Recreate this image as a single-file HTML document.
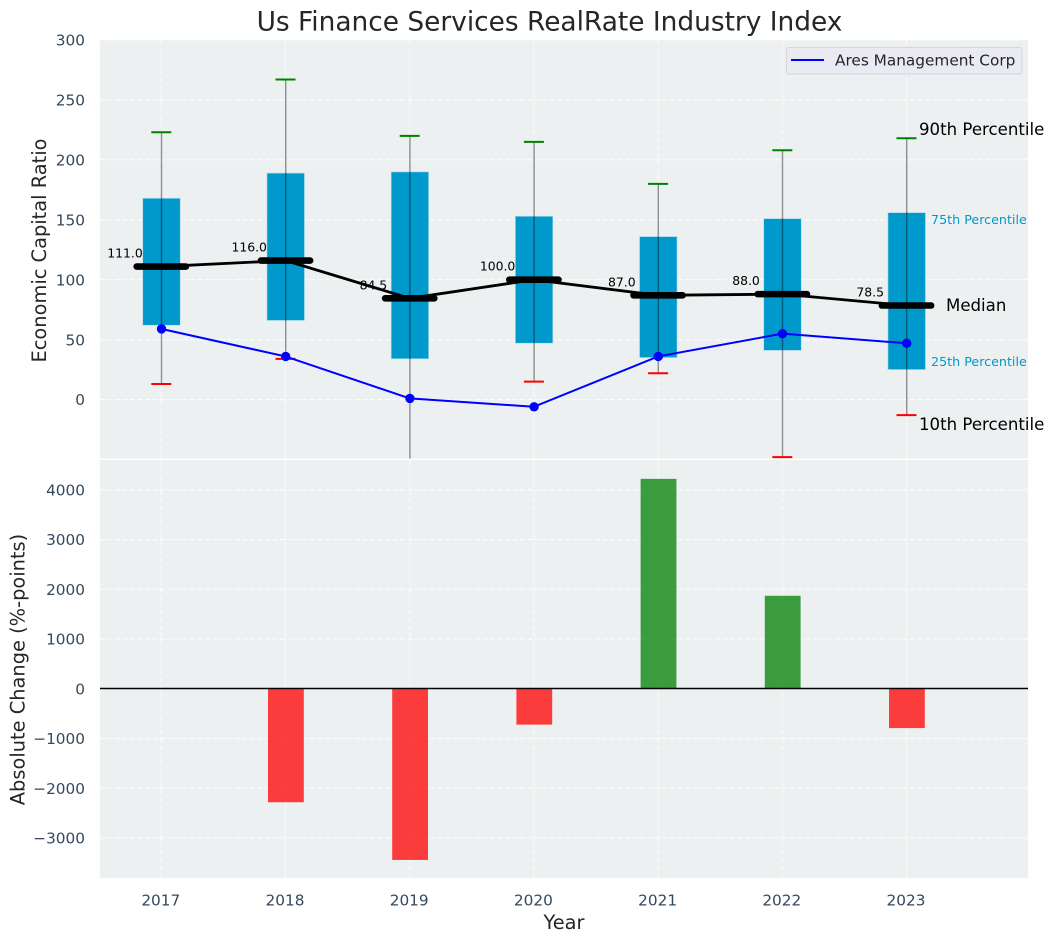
<!DOCTYPE html>
<html>
<head>
<meta charset="utf-8">
<style>
html,body{margin:0;padding:0;background:#fff;}
svg{display:block;font-family:"DejaVu Sans","Liberation Sans",sans-serif;}
</style>
</head>
<body>
<svg id="chart" width="1054" height="942" viewBox="0 0 1054 942" xmlns="http://www.w3.org/2000/svg">
<defs>
<clipPath id="topClip"><rect x="100" y="40" width="928" height="418.5"/></clipPath>
<clipPath id="botClip"><rect x="100" y="460" width="928" height="418"/></clipPath>
</defs>
</svg>
<script>
const years = [2017, 2018, 2019, 2020, 2021, 2022, 2023];
const p90 = [223, 267, 220, 215, 180, 208, 218];
const p75 = [168, 189, 190, 153, 136, 151, 156];
const medians = [111, 116, 84.5, 100, 87, 88, 78.5];
const p25 = [62, 66, 34, 47, 35, 41, 25];
const p10 = [13, 34, -60, 15, 22, -48, -13];
const ares = [59, 36, 1, -6, 36, 55, 47];
const changes = [null, -2280, -3440, -720, 4220, 1870, -790];
const topTicks = [0, 50, 100, 150, 200, 250, 300];
const botTicks = [-3000, -2000, -1000, 0, 1000, 2000, 3000, 4000];

const svg = document.getElementById('chart');
const NS = 'http://www.w3.org/2000/svg';
const xAt = i => 161.3 + (years[i] - 2017) * 124.2;
const yTop = v => 399.6 - v * 1.1987;
const yBot = v => 688.8 - v * 0.04975;

function make(tag, attrs, parent, text) {
  const el = document.createElementNS(NS, tag);
  for (const k in attrs) el.setAttribute(k, attrs[k]);
  if (text !== undefined) el.textContent = text;
  (parent || svg).appendChild(el);
  return el;
}
function group(name, clip) {
  const g = make('g', clip ? {'clip-path': 'url(#' + clip + ')'} : {});
  
  
  return g;
}

/* panel backgrounds */
const topBg = make('rect', {x: 100, y: 40, width: 928, height: 418.5, fill: '#ecf0f1'});


const botBg = make('rect', {x: 100, y: 460, width: 928, height: 418, fill: '#ecf0f1'});



/* gridlines */
const gridG = group('gridlines');
const dash = {stroke: '#ffffff', 'stroke-width': 1.1, 'stroke-dasharray': '5 2.5', opacity: 0.85};
years.forEach((y, i) => {
  make('line', Object.assign({x1: xAt(i), x2: xAt(i), y1: 40, y2: 458.5}, dash), gridG);
  make('line', Object.assign({x1: xAt(i), x2: xAt(i), y1: 460, y2: 878}, dash), gridG);
});
topTicks.forEach(t => make('line', Object.assign({x1: 100, x2: 1028, y1: yTop(t), y2: yTop(t)}, dash), gridG));
botTicks.forEach(t => make('line', Object.assign({x1: 100, x2: 1028, y1: yBot(t), y2: yBot(t)}, dash), gridG));

/* top panel marks */
const topG = group('percentile-series', 'topClip');
const BOX_HALF = 18.8;
const CAP_HALF = 10;
years.forEach((y, i) => {
  const box = make('rect', {
    x: xAt(i) - BOX_HALF + 0.2, width: BOX_HALF * 2,
    y: yTop(p75[i]), height: yTop(p25[i]) - yTop(p75[i]),
    fill: '#0099cc', stroke: '#b8dfec', 'stroke-width': 0.7
  }, topG);
  
  
  const whisker = make('line', {
    x1: xAt(i) + 0.2, x2: xAt(i) + 0.2, y1: yTop(p90[i]), y2: yTop(p10[i]),
    stroke: '#000', 'stroke-opacity': 0.42, 'stroke-width': 1.4
  }, topG);
  
  
  const capHi = make('line', {
    x1: xAt(i) - CAP_HALF, x2: xAt(i) + CAP_HALF, y1: yTop(p90[i]), y2: yTop(p90[i]),
    stroke: '#008000', 'stroke-width': 2
  }, topG);
  
  
  const capLo = make('line', {
    x1: xAt(i) - CAP_HALF, x2: xAt(i) + CAP_HALF, y1: yTop(p10[i]), y2: yTop(p10[i]),
    stroke: '#ff0000', 'stroke-width': 2
  }, topG);
  
  
});

/* median value labels */
const medLabelG = group('median-value-labels');
years.forEach((y, i) => {
  const t = make('text', {
    x: xAt(i) - 36.3, y: yTop(medians[i]) - 9, 'text-anchor': 'middle',
    'font-size': 12.4, fill: '#000'
  }, medLabelG, medians[i].toFixed(1));
  
  
});

/* median trend + ticks */
const medPts = years.map((y, i) => xAt(i) + ',' + yTop(medians[i])).join(' ');
const medLine = make('polyline', {points: medPts, fill: 'none', stroke: '#000', 'stroke-width': 2.8}, topG);


years.forEach((y, i) => {
  const m = make('line', {
    x1: xAt(i) - 24.6, x2: xAt(i) + 24.6, y1: yTop(medians[i]), y2: yTop(medians[i]),
    stroke: '#000', 'stroke-width': 6.6, 'stroke-linecap': 'round'
  }, topG);
  
  
});

/* Ares series */
const aresPts = years.map((y, i) => xAt(i) + ',' + yTop(ares[i])).join(' ');
const aresLine = make('polyline', {points: aresPts, fill: 'none', stroke: '#0000ff', 'stroke-width': 2}, topG);


years.forEach((y, i) => {
  const c = make('circle', {cx: xAt(i) + 0.2, cy: yTop(ares[i]), r: 4.7, fill: '#0000ff'}, topG);
  
  
});

/* bottom panel bars */
const botG = group('absolute-change-bars', 'botClip');
changes.forEach((v, i) => {
  if (v === null) return;
  const top = Math.min(yBot(v), yBot(0));
  const h = Math.abs(yBot(v) - yBot(0));
  const b = make('rect', {
    x: xAt(i) - 17.5, width: 35.8, y: top, height: h,
    fill: v >= 0 ? '#008000' : '#ff0000', 'fill-opacity': 0.75
  }, botG);
  
  
});
const zero = make('line', {x1: 100, x2: 1028, y1: yBot(0) - 0.3, y2: yBot(0) - 0.3, stroke: '#000', 'stroke-width': 1.4});



/* tick labels */
const tickColor = '#34495e';
topTicks.forEach(t => {
  const el = make('text', {x: 85, y: yTop(t) + 5.6, 'text-anchor': 'end', 'font-size': 15.3, fill: tickColor}, svg, String(t));
  
  
});
botTicks.forEach(t => {
  const el = make('text', {x: 85, y: yBot(t) + 5.6, 'text-anchor': 'end', 'font-size': 15.3, fill: tickColor}, svg, String(t).replace('-', '\u2212'));
  
  
});
years.forEach((y, i) => {
  const el = make('text', {x: xAt(i) - 0.5, y: 905.5, 'text-anchor': 'middle', 'font-size': 15.3, fill: tickColor}, svg, String(y));
  
  
});
</script>

<script>
/* static labels */
(function () {
  const s = document.getElementById('chart');
  const ns = 'http://www.w3.org/2000/svg';
  function label(name, txt, attrs) {
    const el = document.createElementNS(ns, 'text');
    for (const k in attrs) el.setAttribute(k, attrs[k]);
    el.textContent = txt;
    
    
    s.appendChild(el);
  }
  label('chart-title', 'Us Finance Services RealRate Industry Index', {x: 549.5, y: 30.5, 'text-anchor': 'middle', 'font-size': 26.4, fill: '#262626'});
  label('top-y-axis-title', 'Economic Capital Ratio', {x: 0, y: 0, transform: 'translate(46,250.5) rotate(-90)', 'text-anchor': 'middle', 'font-size': 19.4, fill: '#262626'});
  label('bottom-y-axis-title', 'Absolute Change (%-points)', {x: 0, y: 0, transform: 'translate(24.5,669.5) rotate(-90)', 'text-anchor': 'middle', 'font-size': 19.4, fill: '#262626'});
  label('x-axis-title', 'Year', {x: 564, y: 929, 'text-anchor': 'middle', 'font-size': 19.4, fill: '#262626'});
  label('p90-annotation', '90th Percentile', {x: 919, y: 135, 'font-size': 16.6, fill: '#000'});
  label('p10-annotation', '10th Percentile', {x: 919, y: 430, 'font-size': 16.6, fill: '#000'});
  label('median-annotation', 'Median', {x: 946, y: 311, 'font-size': 16.6, fill: '#000'});
  label('p75-annotation', '75th Percentile', {x: 931, y: 224, 'font-size': 12.7, fill: '#0099cc'});
  label('p25-annotation', '25th Percentile', {x: 931, y: 366, 'font-size': 12.7, fill: '#0099cc'});

  const g = document.createElementNS(ns, 'g');
  
  
  s.appendChild(g);
  const box = document.createElementNS(ns, 'rect');
  box.setAttribute('x', 786.5);
  box.setAttribute('y', 47.5);
  box.setAttribute('width', 235.5);
  box.setAttribute('height', 26.5);
  box.setAttribute('rx', 2.5);
  box.setAttribute('fill', '#eaeaf2');
  box.setAttribute('stroke', '#d4d6da');
  
  
  g.appendChild(box);
  const ln = document.createElementNS(ns, 'line');
  ln.setAttribute('x1', 791);
  ln.setAttribute('x2', 824);
  ln.setAttribute('y1', 60);
  ln.setAttribute('y2', 60);
  ln.setAttribute('stroke', '#0000ff');
  ln.setAttribute('stroke-width', 2);
  
  
  g.appendChild(ln);
  const t = document.createElementNS(ns, 'text');
  t.setAttribute('x', 835);
  t.setAttribute('y', 65.5);
  t.setAttribute('font-size', 15.3);
  t.setAttribute('fill', '#262626');
  t.textContent = 'Ares Management Corp';
  
  
  g.appendChild(t);
})();
</script>
</body>
</html>
